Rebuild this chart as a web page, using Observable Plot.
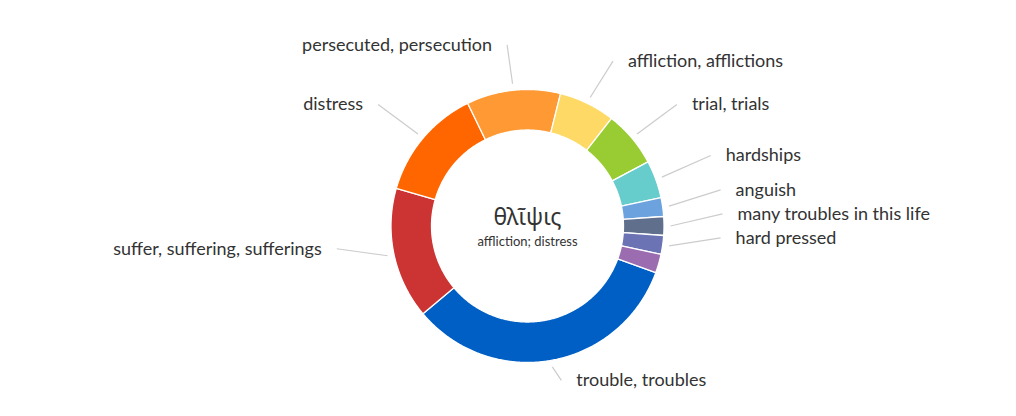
<!DOCTYPE html>
<html>
<head>
<meta charset="utf-8">
<script src="https://cdn.jsdelivr.net/npm/d3@7"></script>
<script src="https://cdn.jsdelivr.net/npm/@observablehq/plot@0.6"></script>
<style>
  html, body { margin: 0; padding: 0; background: #ffffff; }
  #chart svg { display: block; }
</style>
</head>
<body>
<div id="chart"></div>
<script>
// ---- data ----
const names = [
  "trouble, troubles",
  "suffer, suffering, sufferings",
  "distress",
  "persecuted, persecution",
  "affliction, afflictions",
  "trial, trials",
  "hardships",
  "anguish",
  "many troubles in this life",
  "hard pressed",
  ""
];
const counts = [15, 7, 6, 5, 3, 3, 2, 1, 1, 1, 1];
const colors = [
  "#005fc4", "#cc3333", "#ff6600", "#ff9933", "#ffd966", "#99cc33",
  "#66cccc", "#6ca2de", "#5f6f8c", "#6b73b5", "#9b6db0"
];
const centerTitle = "θλῖψις";
const centerSubtitle = "affliction; distress";

// ---- layout ----
const W = 1016, H = 416;
const cx = 527, cy = 225.5;
const R = 136.5, r0 = 96;
const Rc = 143;              // connector start radius
const RlX = 195, RlY = 169.5; // label anchor radii
const labelShiftY = -12.5;
const pad = 15, gap = 24, yMin = 40, yMax = 400;
const startAngle = 110;

const total = d3.sum(counts);
const angle = d3.scaleLinear().domain([0, total]).range([startAngle, startAngle + 360]);
const cum = d3.cumsum(counts);
const rad = a => a * Math.PI / 180;
const px = (r, a) => cx + r * Math.sin(rad(a));
const py = (r, a) => cy - r * Math.cos(rad(a));

const slices = names.map((name, i) => ({
  i, name, color: colors[i],
  a0: angle(cum[i] - counts[i]), a1: angle(cum[i])
}));

function slicePoints(s) {
  const n = Math.max(2, Math.ceil((s.a1 - s.a0) / 0.5));
  const pts = [];
  for (let k = 0; k <= n; k++) { const a = s.a0 + (s.a1 - s.a0) * k / n; pts.push({x: px(R, a), y: py(R, a)}); }
  for (let k = n; k >= 0; k--) { const a = s.a0 + (s.a1 - s.a0) * k / n; pts.push({x: px(r0, a), y: py(r0, a)}); }
  pts.push(pts[0]);
  return pts;
}

// labels
const labels = slices.filter(s => s.name).map(s => {
  const m = (s.a0 + s.a1) / 2;
  return {
    name: s.name,
    right: Math.sin(rad(m)) >= 0,
    sx: px(Rc, m), sy: py(Rc, m),
    ex: px(RlX, m),
    ey: Math.max(yMin, Math.min(yMax, py(RlY, m) + labelShiftY))
  };
});
for (const side of [true, false]) {
  const g = labels.filter(d => d.right === side).sort((a, b) => a.ey - b.ey);
  for (let k = 1; k < g.length; k++) if (g[k].ey < g[k - 1].ey + gap) g[k].ey = g[k - 1].ey + gap;
  if (g.length && g[g.length - 1].ey > yMax) g[g.length - 1].ey = yMax;
  for (let k = g.length - 2; k >= 0; k--) if (g[k].ey > g[k + 1].ey - gap) g[k].ey = g[k + 1].ey - gap;
}
labels.forEach(d => { d.tx = d.right ? d.ex + pad : d.ex - pad; });

const font = "Lato, 'Open Sans', 'Noto Sans', sans-serif";

const marks = [];
for (const s of slices) {
  marks.push(Plot.line(slicePoints(s), {x: "x", y: "y", fill: s.color, stroke: "#ffffff", strokeWidth: 1.3, curve: "linear"}));
}
marks.push(Plot.link(labels, {x1: "sx", y1: "sy", x2: "ex", y2: "ey", stroke: "#cccccc", strokeWidth: 1.2}));
marks.push(Plot.text(labels.filter(d => d.right), {x: "tx", y: "ey", text: "name", textAnchor: "start", fontSize: 18, fill: "#333333", fontFamily: font}));
marks.push(Plot.text(labels.filter(d => !d.right), {x: "tx", y: "ey", text: "name", textAnchor: "end", fontSize: 18, fill: "#333333", fontFamily: font}));
marks.push(Plot.text([centerTitle], {x: () => cx, y: () => cy - 8, text: d => d, fontSize: 23, fill: "#333333", fontFamily: "'Noto Sans', 'Open Sans', sans-serif"}));
marks.push(Plot.text([centerSubtitle], {x: () => cx, y: () => cy + 16, text: d => d, fontSize: 13, fill: "#333333", fontFamily: font}));

const chart = Plot.plot({
  width: W, height: H, margin: 0,
  x: {domain: [0, W], range: [0, W], axis: null},
  y: {domain: [0, H], range: [0, H], axis: null},
  style: {background: "#ffffff", fontFamily: font},
  marks
});
document.getElementById("chart").appendChild(chart);
</script>
</body>
</html>
